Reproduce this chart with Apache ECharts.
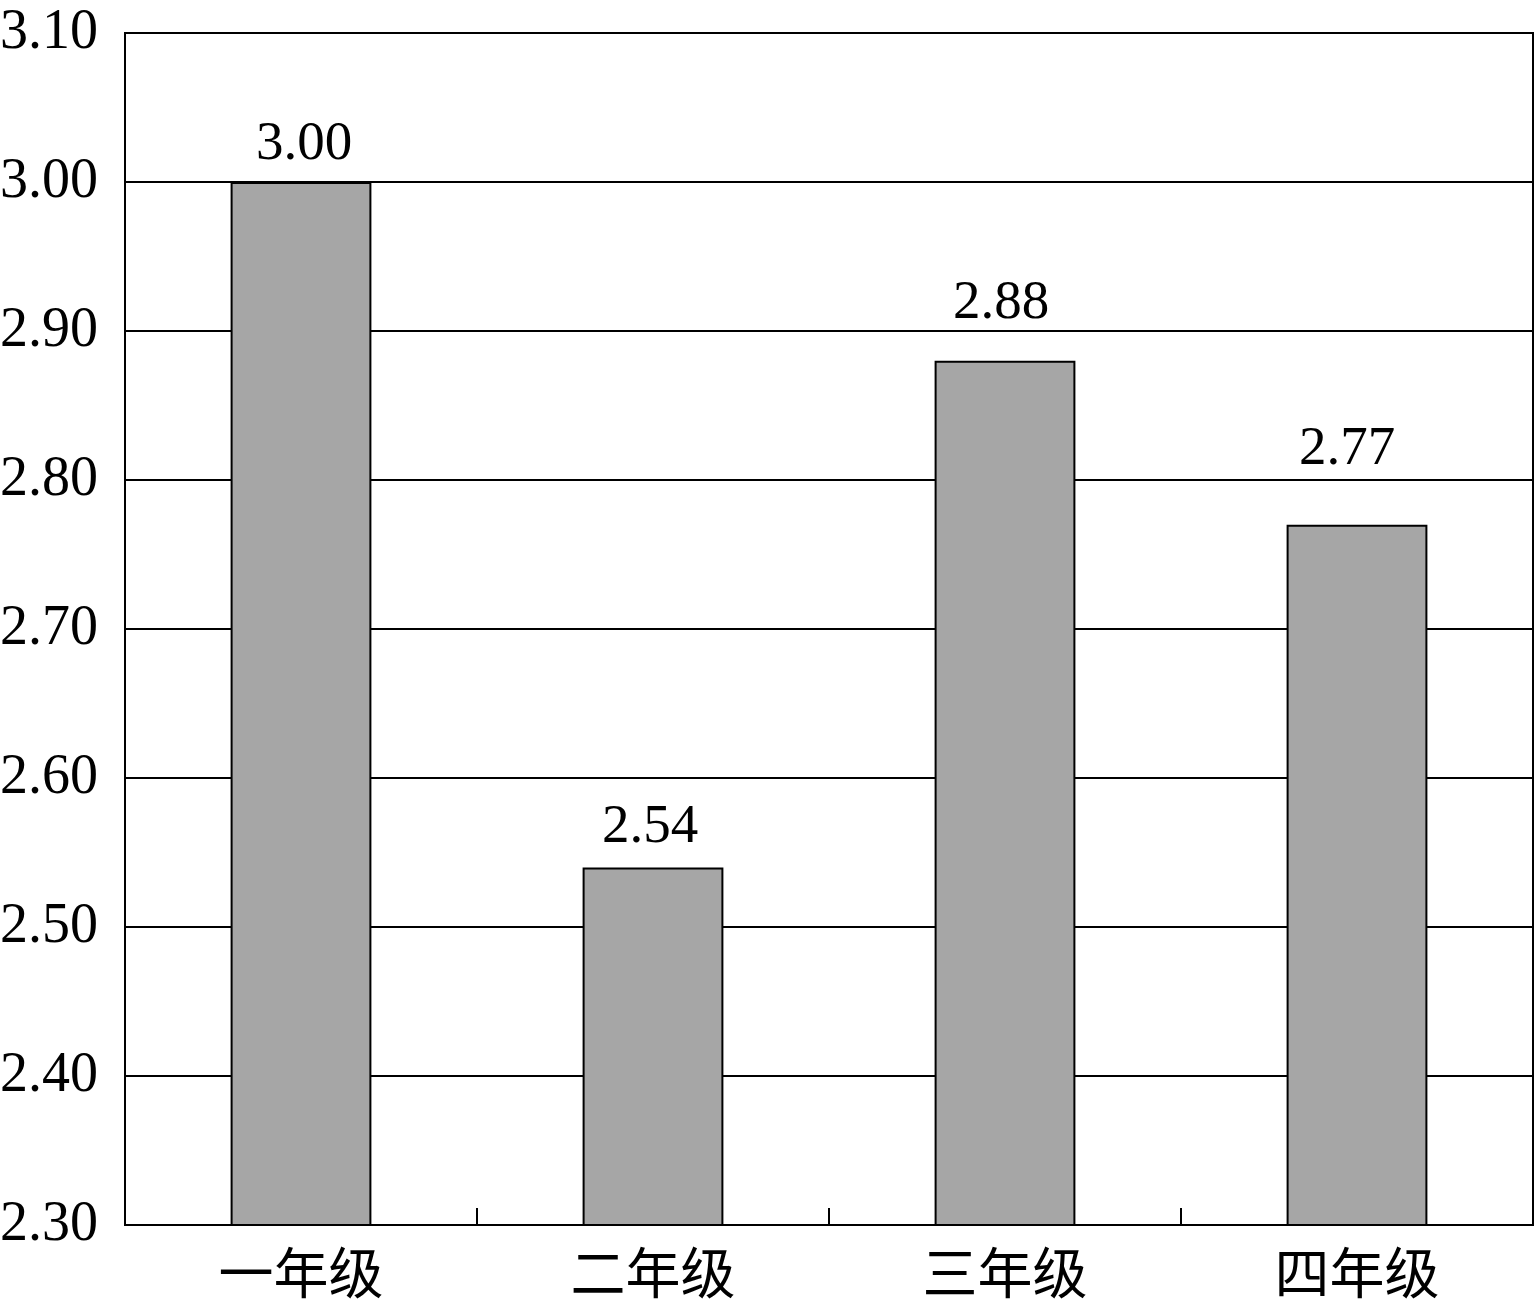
<!DOCTYPE html>
<html><head><meta charset="utf-8">
<script src="https://cdn.jsdelivr.net/npm/echarts@6/dist/echarts.min.js"></script>
<style>html,body{margin:0;padding:0;background:#fff}#c{width:1536px;height:1311px}</style>
</head><body><div id="c"></div>
<script>
const categories = ['一年级', '二年级', '三年级', '四年级'];
const values = [3.00, 2.54, 2.88, 2.77];
const yMin = 2.30, yMax = 3.10, yStep = 0.10;
// label offsets above each bar (style only)
const labelGaps = [10, 12, 30, 48];
const labelShiftX = [3, -3, -4, -10];

const chart = echarts.init(document.getElementById('c'), null, {renderer: 'canvas'});
chart.setOption({
  animation: false,
  backgroundColor: '#fff',
  grid: {left: 125, right: 3, top: 33, bottom: 86, containLabel: false, outerBoundsMode: 'none',
    show: true, borderColor: '#000', borderWidth: 2, backgroundColor: 'transparent'},
  xAxis: {
    type: 'category', data: categories,
    axisLine: {show: true, lineStyle: {color: '#000', width: 2}},
    axisTick: {show: true, inside: true, length: 17, alignWithLabel: false, lineStyle: {color: '#000', width: 2}},
    axisLabel: {color: '#000', fontSize: 55, fontFamily: '"Noto Sans CJK SC", serif', margin: 20}
  },
  yAxis: {
    type: 'value', min: yMin, max: yMax, interval: yStep,
    axisLine: {show: true, lineStyle: {color: '#000', width: 2}},
    axisTick: {show: false},
    splitLine: {show: true, lineStyle: {color: '#000', width: 2}},
    axisLabel: {color: '#000', fontSize: 56, fontFamily: '"Liberation Serif", serif', margin: 27,
      formatter: v => v.toFixed(2)}
  },
  series: [{
    type: 'bar',
    data: values.map((v, i) => ({value: v, label: {distance: labelGaps[i], offset: [labelShiftX[i], 0]}})),
    barWidth: '40%',
    itemStyle: {color: '#a6a6a6', borderColor: '#000', borderWidth: 2},
    label: {show: true, position: 'top', color: '#000', fontSize: 55,
      fontFamily: '"Liberation Serif", serif', formatter: p => p.value.toFixed(2)}
  }]
});
</script></body></html>
